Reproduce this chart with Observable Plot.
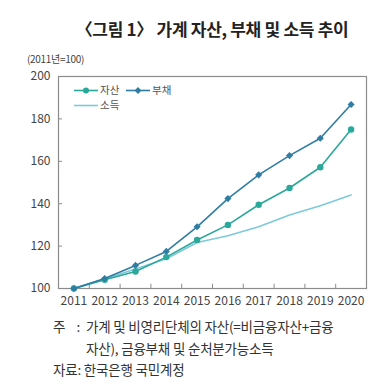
<!DOCTYPE html>
<html>
<head>
<meta charset="utf-8">
<script src="https://cdn.jsdelivr.net/npm/d3@7"></script>
<script src="https://cdn.jsdelivr.net/npm/@observablehq/plot@0.6"></script>
<style>
  html, body { margin: 0; padding: 0; background: #fff; }
  body { width: 383px; height: 388px; position: relative; overflow: hidden;
         font-family: "Noto Sans CJK KR", "Noto Sans", sans-serif; color: #333; }
  #title { position: absolute; left: 58px; width: 308px; top: 16px; text-align: center;
           font-size: 17px; font-weight: 700; color: #222; letter-spacing: -0.3px; white-space: nowrap; }
  #unit { position: absolute; left: 27px; top: 51px; font-size: 10px; color: #444; letter-spacing: -0.3px; }
  #chart { position: absolute; left: 0; top: 0; }
  #legend { position: absolute; left: 0; top: 0; width: 383px; height: 130px; pointer-events: none; }
  .note { position: absolute; font-size: 13.5px; color: #333; white-space: nowrap; letter-spacing: -0.2px; line-height: 16px; }
</style>
</head>
<body>
<div id="chart"></div>
<div id="title"></div>
<div id="unit"></div>
<svg id="legend"></svg>
<div class="note" id="n1a" style="left:53px; top:318px;"></div>
<div class="note" id="n1b" style="left:86px; top:318px;"></div>
<div class="note" id="n2" style="left:86px; top:339.5px;"></div>
<div class="note" id="n3" style="left:53px; top:361px;"></div>
<script>
const titleText = "〈그림 1〉 가계 자산, 부채 및 소득 추이";
const unitText = "(2011년=100)";
const years = [2011, 2012, 2013, 2014, 2015, 2016, 2017, 2018, 2019, 2020];
const asset  = [100, 104.1, 108.0, 114.8, 122.9, 130.0, 139.5, 147.4, 157.2, 175.0];
const debt   = [100, 104.7, 110.9, 117.5, 129.1, 142.4, 153.6, 162.7, 170.9, 186.8];
const income = [100, 104.5, 109.2, 114.0, 121.7, 124.9, 129.1, 134.7, 139.0, 144.1];
const yTicks = [100, 120, 140, 160, 180, 200];
const seriesNames = ["자산", "부채", "소득"];
const colors = {"자산": "#2aa99b", "부채": "#2f7da3", "소득": "#7cc9da"};
const note1Label = "주&nbsp;&nbsp;&nbsp;&nbsp;:";
const note1 = "가계 및 비영리단체의 자산(=비금융자산+금융";
const note2 = "자산), 금융부채 및 순처분가능소득";
const note3 = "자료: 한국은행 국민계정";

document.getElementById("title").textContent = titleText;
document.getElementById("unit").textContent = unitText;
document.getElementById("n1a").innerHTML = note1Label;
document.getElementById("n1b").textContent = note1;
document.getElementById("n2").textContent = note2;
document.getElementById("n3").textContent = note3;

const rows = (vals, name) => years.map((y, i) => ({year: y, value: vals[i], series: name}));
const assetRows = rows(asset, "자산");
const debtRows = rows(debt, "부채");
const incomeRows = rows(income, "소득");

const xDomain = [years[0] - 0.5, years[years.length - 1] + 0.5];
const boundaries = years.slice(0, -1).map(y => y + 0.5);
const axisColor = "#8c8c8c";

const chart = Plot.plot({
  width: 383,
  height: 320,
  marginLeft: 58,
  marginRight: 17,
  marginTop: 76,
  marginBottom: 32,
  style: {fontFamily: '"Noto Sans CJK KR", "Noto Sans", sans-serif', fontSize: "12px", color: "#444", background: "transparent"},
  x: {type: "linear", domain: xDomain},
  y: {domain: [yTicks[0], yTicks[yTicks.length - 1]]},
  marks: [
    Plot.ruleY(yTicks.slice(1, -1), {y: d => d, x1: xDomain[0], x2: xDomain[0] + 0.13, stroke: axisColor}),
    Plot.ruleX(boundaries, {x: d => d, y1: yTicks[0], y2: yTicks[0] + 2, stroke: axisColor}),
    Plot.frame({stroke: axisColor, strokeWidth: 1.2}),
    Plot.axisY({ticks: yTicks, tickSize: 0, tickPadding: 8, label: null, tickFormat: d => String(d)}),
    Plot.axisX({ticks: years, tickSize: 0, tickPadding: 8, label: null, tickFormat: d => String(d)}),
    Plot.line(incomeRows, {x: "year", y: "value", stroke: colors["소득"], strokeWidth: 1.6}),
    Plot.line(assetRows, {x: "year", y: "value", stroke: colors["자산"], strokeWidth: 1.6}),
    Plot.dot(assetRows, {x: "year", y: "value", fill: colors["자산"], r: 3.2, symbol: "circle"}),
    Plot.line(debtRows, {x: "year", y: "value", stroke: colors["부채"], strokeWidth: 1.6}),
    Plot.dot(debtRows, {x: "year", y: "value", fill: colors["부채"], r: 3.2, symbol: "diamond2"})
  ]
});
document.getElementById("chart").appendChild(chart);

// legend
const lg = d3.select("#legend");
const items = [
  {name: seriesNames[0], x: 74, y: 90.5, marker: "circle"},
  {name: seriesNames[1], x: 126, y: 90.5, marker: "diamond"},
  {name: seriesNames[2], x: 74, y: 105.5, marker: null}
];
for (const it of items) {
  const c = colors[it.name];
  lg.append("line").attr("x1", it.x).attr("x2", it.x + 24).attr("y1", it.y).attr("y2", it.y)
    .attr("stroke", c).attr("stroke-width", 1.6);
  if (it.marker === "circle") lg.append("circle").attr("cx", it.x + 12).attr("cy", it.y).attr("r", 3).attr("fill", c);
  if (it.marker === "diamond") lg.append("path").attr("d", d3.symbol(d3.symbolDiamond2, 30)()).attr("transform", `translate(${it.x + 12},${it.y})`).attr("fill", c);
  lg.append("text").attr("x", it.x + 26).attr("y", it.y).attr("dy", "0.35em")
    .attr("font-size", "10.5px").attr("fill", "#555")
    .attr("font-family", '"Noto Sans CJK KR", sans-serif').text(it.name);
}
</script>
</body>
</html>
